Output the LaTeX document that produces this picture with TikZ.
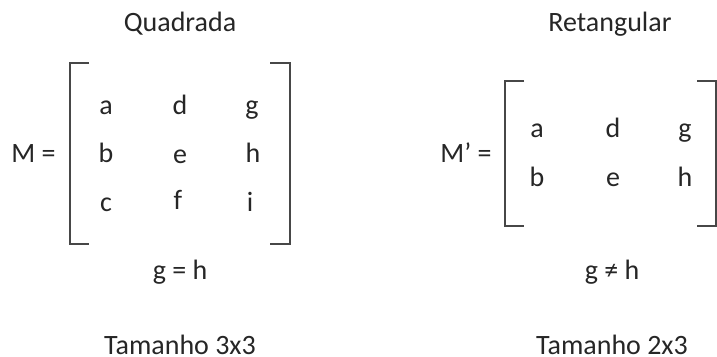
\documentclass[tikz,border=0pt]{standalone}
\usepackage{fontspec}
\setmainfont{Carlito}
\usepackage{xcolor}
\usetikzlibrary{positioning, calc}
\definecolor{inkgray}{HTML}{262626}
\tikzset{
    entry text/.style={text=inkgray, font=\fontsize{14}{16}\selectfont, inner sep=0pt, anchor=base},
    bracket line/.style={draw=inkgray!85, line width=0.7pt}
}

\begin{document}
\begin{tikzpicture}[x=0.5pt, y=-0.5pt]
    \useasboundingbox (0,0) rectangle (717,357);
    % square matrix
    \node[entry text] (titleQ) at (180,32) {Quadrada};
    \node[entry text] (nameM) at (33.5,163) {M =};
    \foreach \name/\px/\py in {a/106/115, d/180/115, g/252/115, b/106/163, e/180/164, h/253/163, c/106/212, f/178/210, i/250/212}
        \node[entry text] (Q-\name) at (\px,\py) {\name};
    \coordinate (QL) at (70,63);
    \coordinate (QR) at (290,63);
    \draw[bracket line] ($(QL)+(19,0)$) -- (QL) -- ++(0,181) -- ++(19,0);
    \draw[bracket line] ($(QR)+(-20,0)$) -- (QR) -- ++(0,181) -- ++(-20,0);
    \node[entry text] (eqQ) at (180,280) {g = h};
    \node[entry text] (sizeQ) at (180,355) {Tamanho 3x3};
    % rectangular matrix
    \node[entry text] (titleR) at (610,32) {Retangular};
    \node[entry text] (nameR) at (466,163) {M’ =};
    \foreach \name/\px/\py in {a/537/138, d/613/138, g/685/138, b/537/187, e/613/187, h/685/187}
        \node[entry text] (R-\name) at (\px,\py) {\name};
    \coordinate (RL) at (505,81);
    \coordinate (RR) at (716,81);
    \draw[bracket line] ($(RL)+(19,0)$) -- (RL) -- ++(0,145) -- ++(19,0);
    \draw[bracket line] ($(RR)+(-19,0)$) -- (RR) -- ++(0,145) -- ++(-19,0);
    \node[entry text] (eqR) at (612,280) {g ≠ h};
    \node[entry text] (sizeR) at (612,355) {Tamanho 2x3};
\end{tikzpicture}
\end{document}
